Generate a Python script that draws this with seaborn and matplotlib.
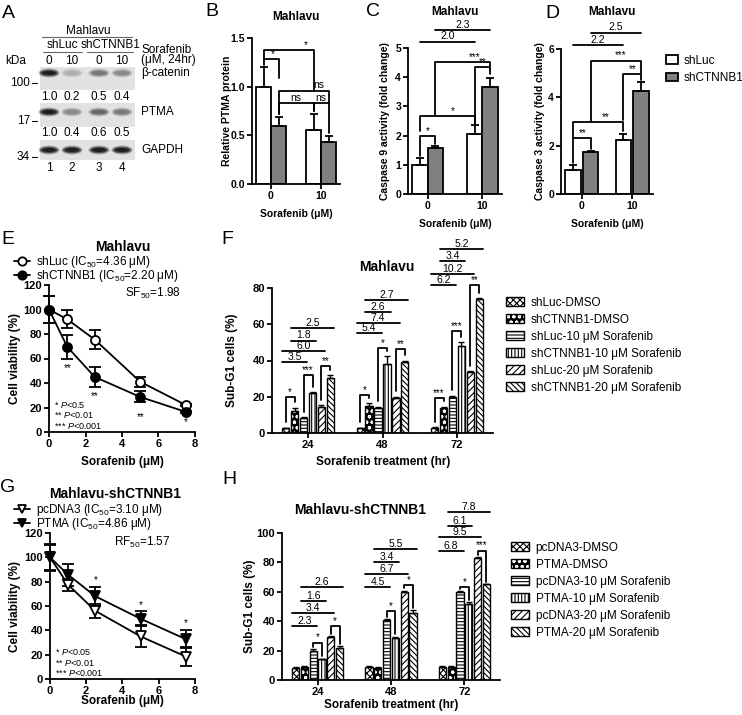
import matplotlib
matplotlib.use("Agg")
import matplotlib.pyplot as plt
from matplotlib.patches import Rectangle, Ellipse, Patch
from matplotlib.lines import Line2D
import pandas as pd
import seaborn as sns

# ---------------- data ----------------
# A: western blot (band quantification)
lane_labels = ["1", "2", "3", "4"]
lane_dose = ["0", "10", "0", "10"]
bcat_quant = [1.0, 0.2, 0.5, 0.4]
ptma_quant = [1.0, 0.4, 0.6, 0.5]
gapdh_quant = [1.0, 1.0, 1.0, 1.0]

# B-D: bar order (0,shLuc) (0,shCTNNB1) (10,shLuc) (10,shCTNNB1)
sh_groups = ["shLuc", "shCTNNB1"]
doses = ["0", "10"]
ptma_mean = [1.00, 0.60, 0.55, 0.43]
ptma_err = [0.20, 0.09, 0.17, 0.06]
casp9_mean = [1.00, 1.57, 2.05, 3.65]
casp9_err = [0.25, 0.08, 0.30, 0.32]
casp3_mean = [1.00, 1.72, 2.25, 4.25]
casp3_err = [0.20, 0.04, 0.25, 0.40]

# brackets: (bar a, bar b, height, leg a bottom, leg b bottom, label, text pos)
b_brackets = [(0, 2, 1.38, 1.28, 0.96, "*", 0.85), (0, 1, 1.28, 1.22, 1.09, "*", 0.6),
              (1, 3, 0.96, 0.72, 0.83, "ns", 0.8), (1, 2, 0.83, 0.72, 0.75, "ns", 0.5),
              (2, 3, 0.83, 0.75, 0.52, "ns", 0.5)]
c_brackets = [(0, 1, 1.99, 1.30, 1.70, "*", 0.5), (0, 2, 2.68, 2.16, 2.40, "*", 0.6),
              (1, 3, 4.52, 2.68, 4.29, "***", 0.72), (2, 3, 4.34, 2.40, 4.10, "**", 0.5)]
d_brackets = [(0, 1, 2.30, 1.30, 1.85, "**", 0.55), (0, 2, 2.96, 2.30, 2.60, "**", 0.65),
              (1, 3, 5.52, 2.96, 5.00, "***", 0.6), (2, 3, 4.97, 3.05, 4.72, "**", 0.5)]
c_folds = [(0, 2, 5.22, "2.0"), (1, 3, 5.62, "2.3")]
d_folds = [(0, 2, 6.16, "2.2"), (1, 3, 6.68, "2.5")]

# E / G: viability curves
conc = [0, 1, 2.5, 5, 7.5]
e_shluc = [100, 92, 75.5, 41, 22]
e_shluc_err = [11, 7.5, 8, 4, 1]
e_shct = [100, 69.5, 45, 28.6, 16.4]
e_shct_err = [11, 10, 8, 4.5, 1]
e_star_y = [52, 29.5, 12.3, 8.2]
e_star_lab = ["**", "**", "**", "*"]
e_p_text = ["0.5", "0.01", "0.001"]

g_pc = [100, 77.5, 56, 35, 18.4]
g_pc_err = [10, 5, 6, 9, 8]
g_ptma = [100, 85.7, 68, 49.5, 32.7]
g_ptma_err = [11, 9, 8, 6, 7.5]
g_star_y = [81.5, 61, 46]
g_p_text = ["0.05", "0.01", "0.001"]

# F / H: sub-G1
times = ["24", "48", "72"]
f_conditions = ["shLuc-DMSO", "shCTNNB1-DMSO", "shLuc-10 μM Sorafenib",
                "shCTNNB1-10 μM Sorafenib", "shLuc-20 μM Sorafenib", "shCTNNB1-20 μM Sorafenib"]
f_values = [[2.5, 12, 8.5, 22, 14.5, 30.5], [2.5, 15, 14, 38, 19.5, 39], [3, 14, 20, 48, 33.5, 74]]
f_errors = [[0.3, 2, 0.3, 0.5, 0.7, 1.5], [0.3, 1.5, 0.5, 4.5, 0.5, 1], [0.3, 0.5, 0.5, 2, 0.5, 0.5]]
f_star_pairs = [(0, 1), (2, 3), (4, 5)]
f_star_h = [[19.7, 32, 36.8], [21, 47, 46.5], [19.3, 56.4, 81.4]]
f_star_lab = [["*", "***", "**"], ["*", "*", "**"], ["***", "***", "**"]]
fold_pairs = [(0, 2), (0, 4), (1, 3), (1, 5)]
f_fold_h = [[39, 45, 51, 58], [55, 60.6, 66.7, 73.5], [81.8, 87.7, 94.7, 101.7]]
f_fold_lab = [["3.5", "6.0", "1.8", "2.5"], ["5.4", "7.4", "2.6", "2.7"], ["6.2", "10.2", "3.4", "5.2"]]

h_conditions = ["pcDNA3-DMSO", "PTMA-DMSO", "pcDNA3-10 μM Sorafenib",
                "PTMA-10 μM Sorafenib", "pcDNA3-20 μM Sorafenib", "PTMA-20 μM Sorafenib"]
h_values = [[8.5, 9, 20, 14, 29, 22], [9, 8.5, 40.5, 28.5, 60, 45.5], [9, 9, 60, 51.5, 83, 65]]
h_errors = [[0.3, 0.5, 1, 0.5, 0.8, 0.8], [0.3, 0.3, 1, 1, 0.8, 2], [0.3, 0.3, 0.5, 1.5, 0.5, 0.5]]
h_star_pairs = [(2, 3), (4, 5)]
h_star_h = [[25.5, 36.4], [47, 64.3], [63, 88]]
h_star_lab = [["*", "*"], ["*", "*"], ["*", "***"]]
h_fold_h = [[36.4, 45.5, 54, 63], [63, 72, 80, 89], [87.7, 97, 105, 114]]
h_fold_lab = [["2.3", "3.4", "1.6", "2.6"], ["4.5", "6.7", "3.4", "5.5"], ["6.8", "9.5", "6.1", "7.8"]]

hatches = ["xxxxx", "ooo", "-----", "|||||", "/////", "\\\\\\\\\\\\"]
DOT = "ooo"  # this pattern is drawn white-on-black

# ---------------- style ----------------
sns.set_theme(style="ticks")
plt.rcParams.update({
    "font.family": ["Liberation Sans", "DejaVu Sans"],
    "mathtext.fontset": "custom",
    "mathtext.rm": "Liberation Sans",
    "mathtext.it": "Liberation Sans:italic",
    "mathtext.bf": "Liberation Sans:bold",
    "axes.linewidth": 1.3,
    "axes.edgecolor": "black",
    "xtick.color": "black", "ytick.color": "black",
    "xtick.major.width": 1.3, "ytick.major.width": 1.3,
    "xtick.major.size": 3.5, "ytick.major.size": 3.5,
    "text.color": "black",
    "hatch.linewidth": 0.8,
})
LW = 1.3
W, H = 742, 715
fig = plt.figure(figsize=(W / 100, H / 100), dpi=100)


def px_axes(left, top, right, bottom):
    return fig.add_axes([left / W, 1 - bottom / H, (right - left) / W, (bottom - top) / H])


def ftext(x, y, s, **kw):
    kw.setdefault("ha", "center")
    kw.setdefault("va", "center")
    fig.text(x / W, 1 - y / H, s, **kw)


def style(ax, fs):
    sns.despine(ax=ax)
    ax.set_xlabel("")
    ax.set_ylabel("")
    ax.tick_params(labelsize=fs, pad=1.5)
    for lbl in ax.get_xticklabels() + ax.get_yticklabels():
        lbl.set_fontweight("bold")


def bracket(ax, xa, xb, h, la, lb, label, t=0.5, fs=7):
    ax.plot([xa, xa, xb, xb], [la, h, h, lb], color="black", lw=LW, clip_on=False)
    ax.annotate(label, (xa + t * (xb - xa), h), xytext=(0, 1.5), textcoords="offset points",
                ha="center", va="baseline", fontsize=fs, annotation_clip=False)


def fold(ax, xa, xb, h, label, fs=7.5):
    ax.plot([xa, xb], [h, h], color="black", lw=LW, clip_on=False)
    ax.annotate(label, ((xa + xb) / 2, h), xytext=(0, 1.5), textcoords="offset points",
                ha="center", va="baseline", fontsize=fs, annotation_clip=False)


# ---------------- panel A ----------------
ax = fig.add_axes([0, 1 - 215 / H, 190 / W, 215 / H])
ax.set_xlim(0, 190)
ax.set_ylim(215, 0)
ax.axis("off")
lane_x = [49 + 23 * i + 4 * (i >= 2) for i in range(4)]
fs_a = 8.5
ax.text(88, 31, "Mahlavu", ha="center", va="center", fontsize=fs_a)
ax.plot([42, 132], [37, 37], color="0.4", lw=0.8)
ax.text(62, 45, "shLuc", ha="center", va="center", fontsize=fs_a)
ax.text(111, 45, "shCTNNB1", ha="center", va="center", fontsize=fs_a)
ax.plot([43, 82], [52, 52], color="0.4", lw=0.8)
ax.plot([87, 133], [52, 52], color="0.4", lw=0.8)
ax.text(16, 61, "kDa", ha="center", va="center", fontsize=fs_a)
ax.text(141, 50, "Sorafenib", ha="left", va="center", fontsize=fs_a)
ax.text(141, 60, "(μM, 24hr)", ha="left", va="center", fontsize=fs_a)
for x, d, n in zip(lane_x, lane_dose, lane_labels):
    ax.text(x, 61, d, ha="center", va="center", fontsize=fs_a)
    ax.text(x, 168, n, ha="center", va="center", fontsize=fs_a)

blots = [("β-catenin", 67, 90, 73, bcat_quant, "100", 83),
         ("PTMA", 103, 127, 112, ptma_quant, "17", 121),
         ("GAPDH", 140, 160, 150, gapdh_quant, "34", 157)]
for name, y0, y1, yb, quant, kda, ky in blots:
    ax.add_patch(Rectangle((40, y0), 95, y1 - y0, facecolor="#e2e2e2", edgecolor="none"))
    for x, q in zip(lane_x, quant):
        shade = 0.82 - 0.72 * q
        for w, hgt, a in [(21, 9, 0.3), (18, 6.5, 0.6), (14, 4, 0.9)]:
            ax.add_patch(Ellipse((x, yb), w, hgt, facecolor=str(shade), alpha=a, edgecolor="none"))
    ax.text(141, yb, name, ha="left", va="center", fontsize=fs_a)
    ax.text(30, ky, kda, ha="right", va="center", fontsize=fs_a)
    ax.plot([32, 37], [ky, ky], color="black", lw=0.8)
for yq, quant in [(97, bcat_quant), (133, ptma_quant)]:
    for x, q in zip(lane_x, quant):
        ax.text(x, yq, f"{q:.1f}", ha="center", va="center", fontsize=fs_a)

# ---------------- panels B-D ----------------
def bar_panel(rect, means, errs, ylim, yticks, fmt, brackets, folds, width, gap):
    ax = px_axes(*rect)
    df = pd.DataFrame({"dose": [d for d in doses for _ in sh_groups],
                       "group": [g for _ in doses for g in sh_groups],
                       "value": means})
    sns.barplot(data=df, x="dose", y="value", hue="group", hue_order=sh_groups,
                palette=["white", "#808080"], edgecolor="black", linewidth=LW,
                width=width, gap=gap, errorbar=None, legend=False, saturation=1, ax=ax)
    c0, c1 = ax.containers[0], ax.containers[1]
    bars = [c0[0], c1[0], c0[1], c1[1]]
    bx = [b.get_x() + b.get_width() / 2 for b in bars]
    ax.errorbar(bx, means, yerr=[[0] * 4, errs], fmt="none", ecolor="black",
                elinewidth=LW, capsize=3, capthick=LW)
    ax.set_ylim(*ylim)
    ax.set_yticks(yticks)
    ax.set_yticklabels([fmt.format(v) for v in yticks])
    for a, b, h, la, lb, lab, t in brackets:
        bracket(ax, bx[a], bx[b], h, la, lb, lab, t=t, fs=7 if lab != "ns" else 7.5)
    for a, b, h, lab in folds:
        fold(ax, bx[a], bx[b], h, lab)
    style(ax, 7.5)
    return ax

bar_panel((252, 38, 340, 184), ptma_mean, ptma_err, (0, 1.5), [0, 0.5, 1.0, 1.5], "{:.1f}",
          b_brackets, [], 0.6, 0)
bar_panel((408, 48, 502, 194), casp9_mean, casp9_err, (0, 5), [0, 1, 2, 3, 4, 5], "{:.0f}",
          c_brackets, c_folds, 0.56, 0)
ax_d = bar_panel((561, 49, 653, 194), casp3_mean, casp3_err, (0, 6), [0, 2, 4, 6], "{:.0f}",
                 d_brackets, d_folds, 0.7, 0.12)
ax_d.legend(handles=[Patch(facecolor="white", edgecolor="black", lw=LW),
                     Patch(facecolor="#808080", edgecolor="black", lw=LW)],
            labels=sh_groups, loc="upper left", bbox_to_anchor=(660 / W, 1 - 49 / H),
            bbox_transform=fig.transFigure, frameon=False, fontsize=8.5, borderpad=0,
            handlelength=1.0, handleheight=0.75, labelspacing=0.45, handletextpad=0.5)

for x, y, s in [(296, 17, "Mahlavu"), (455, 12, "Mahlavu"), (612, 12, "Mahlavu")]:
    ftext(x, y, s, fontsize=8.5, fontweight="bold")
for x, y, s in [(296, 214, "Sorafenib (μM)"), (455, 224, "Sorafenib (μM)"), (607, 224, "Sorafenib (μM)")]:
    ftext(x, y, s, fontsize=7.5, fontweight="bold")
ftext(227, 111, "Relative PTMA protein", fontsize=7.5, fontweight="bold", rotation=90)
ftext(385, 121, "Caspase 9 activity (fold change)", fontsize=7.5, fontweight="bold", rotation=90)
ftext(540, 121, "Caspase 3 activity (fold change)", fontsize=7.5, fontweight="bold", rotation=90)

# ---------------- panels E, G ----------------
def curve_panel(rect, series, star_x, star_y, star_lab, p_text, note, legend_top, marker):
    ax = px_axes(*rect)
    handles, labels = [], []
    for vals, errs, face, label in series:
        sns.lineplot(x=conc, y=vals, color="black", lw=LW, marker=marker, markersize=6.5,
                     markerfacecolor=face, markeredgecolor="black", markeredgewidth=LW,
                     clip_on=False, zorder=3, ax=ax)
        ax.errorbar(conc, vals, yerr=errs, fmt="none", ecolor="black", elinewidth=LW,
                    capsize=4, capthick=LW, clip_on=False, zorder=2)
        handles.append(Line2D([], [], color="black", lw=LW, marker=marker, markersize=6,
                              markerfacecolor=face, markeredgecolor="black", markeredgewidth=LW))
        labels.append(label)
    ax.set_xlim(0, 8)
    ax.set_ylim(0, 120)
    ax.set_xticks([0, 2, 4, 6, 8])
    ax.set_yticks(range(0, 121, 20))
    for x, y, s in zip(star_x, star_y, star_lab):
        ax.text(x, y, s, ha="center", va="center", fontsize=7)
    for i, (stars, p) in enumerate(zip(["*", "**", "***"], p_text)):
        ax.text(0.25, 22 - 8.5 * i, f"{stars} $\\mathit{{P}}$<{p}", ha="left", va="center",
                fontsize=6.5)
    ax.text(note[0], note[1], note[2], ha="center", va="center", fontsize=8.5)
    ax.legend(handles=handles, labels=labels, loc="upper left",
              bbox_to_anchor=(8 / W, 1 - legend_top / H), bbox_transform=fig.transFigure,
              frameon=False, fontsize=8.5, borderpad=0, handlelength=1.4,
              handletextpad=0.5, labelspacing=-0.15)
    style(ax, 8)
    return ax

curve_panel((49, 285, 195, 432),
            [(e_shluc, e_shluc_err, "white", "shLuc (IC$_{50}$=4.36 μM)"),
             (e_shct, e_shct_err, "black", "shCTNNB1 (IC$_{50}$=2.20 μM)")],
            conc[1:], e_star_y, e_star_lab, e_p_text, (5.7, 113, "SF$_{50}$=1.98"), 248, "o")
curve_panel((50, 533, 195, 679),
            [(g_pc, g_pc_err, "white", "pcDNA3 (IC$_{50}$=3.10 μM)"),
             (g_ptma, g_ptma_err, "black", "PTMA (IC$_{50}$=4.86 μM)")],
            conc[2:], g_star_y, ["*", "*", "*"], g_p_text, (5.1, 112.5, "RF$_{50}$=1.57"), 496, "v")
ftext(123, 247, "Mahlavu", fontsize=10, fontweight="bold")
ftext(115, 494, "Mahlavu-shCTNNB1", fontsize=10, fontweight="bold")
ftext(122, 462, "Sorafenib (μM)", fontsize=8.5, fontweight="bold")
ftext(122, 701, "Sorafenib (μM)", fontsize=8.5, fontweight="bold")
ftext(15, 358, "Cell viability (%)", fontsize=8.5, fontweight="bold", rotation=90)
ftext(15, 606, "Cell viability (%)", fontsize=8.5, fontweight="bold", rotation=90)

# ---------------- panels F, H ----------------
def subg1_panel(rect, conditions, values, errors, ylim, star_pairs, star_h, star_lab,
                fold_h, fold_lab, pad, legend_top, legend_left):
    ax = px_axes(*rect)
    df = pd.DataFrame({"time": [t for t in times for _ in conditions],
                       "cond": [c for _ in times for c in conditions],
                       "value": [v for row in values for v in row]})
    sns.barplot(data=df, x="time", y="value", hue="cond", hue_order=conditions,
                palette=["white"] * 6, edgecolor="black", linewidth=1.0, width=0.72, gap=0.18,
                errorbar=None, legend=False, saturation=1, ax=ax)
    handles = []
    for k, cont in enumerate(ax.containers):
        for p in cont:
            if hatches[k] == DOT:
                p.set_facecolor("black")
                p.set_edgecolor("white")
                p.set_linewidth(0)
                ax.add_patch(Rectangle(p.get_xy(), p.get_width(), p.get_height(), fill=False,
                                       edgecolor="black", lw=1.0, zorder=p.get_zorder() + 0.1))
            p.set_hatch(hatches[k])
        if hatches[k] == DOT:
            handles.append((Patch(facecolor="black", edgecolor="white", hatch=hatches[k], lw=0),
                            Patch(fill=False, edgecolor="black", lw=1.0)))
        else:
            handles.append(Patch(facecolor="white", edgecolor="black", hatch=hatches[k], lw=1.0))
    for g in range(len(times)):
        bars = [ax.containers[k][g] for k in range(6)]
        cx = [b.get_x() + b.get_width() / 2 for b in bars]
        ax.errorbar(cx, values[g], yerr=[[0] * 6, errors[g]], fmt="none", ecolor="black",
                    elinewidth=1.0, capsize=2, capthick=1.0)
        for (a, b), h, lab in zip(star_pairs, star_h[g], star_lab[g]):
            la = values[g][a] + errors[g][a] + pad
            lb = values[g][b] + errors[g][b] + pad
            bracket(ax, cx[a], cx[b], h, min(la, h), min(lb, h), lab)
        for (a, b), h, lab in zip(fold_pairs, fold_h[g], fold_lab[g]):
            fold(ax, bars[a].get_x(), bars[b].get_x() + bars[b].get_width(), h, lab)
    ax.set_ylim(*ylim)
    ax.set_yticks(range(0, ylim[1] + 1, 20))
    ax.legend(handles=handles, labels=conditions, loc="upper left",
              bbox_to_anchor=(legend_left / W, 1 - legend_top / H), bbox_transform=fig.transFigure,
              frameon=False, fontsize=8.5, borderpad=0, handlelength=1.5, handleheight=0.8,
              labelspacing=0.42, handletextpad=0.6)
    style(ax, 8)
    return ax

subg1_panel((272, 288, 493, 433), f_conditions, f_values, f_errors, (0, 80), f_star_pairs,
            f_star_h, f_star_lab, f_fold_h, f_fold_lab, 3, 291, 500)
subg1_panel((282, 533, 500, 680), h_conditions, h_values, h_errors, (0, 100), h_star_pairs,
            h_star_h, h_star_lab, h_fold_h, h_fold_lab, 1.5, 536, 505)
ftext(387, 267, "Mahlavu", fontsize=10, fontweight="bold")
ftext(360, 510, "Mahlavu-shCTNNB1", fontsize=10, fontweight="bold")
ftext(383, 462, "Sorafenib treatment (hr)", fontsize=8.5, fontweight="bold")
ftext(391, 705, "Sorafenib treatment (hr)", fontsize=8.5, fontweight="bold")
ftext(232, 360, "Sub-G1 cells (%)", fontsize=8.5, fontweight="bold", rotation=90)
ftext(250, 606, "Sub-G1 cells (%)", fontsize=8.5, fontweight="bold", rotation=90)

# ---------------- panel letters ----------------
for x, y, s in [(8, 13, "A"), (212, 12, "B"), (373, 12, "C"), (552, 13, "D"),
                (8, 240, "E"), (227, 240, "F"), (8, 487, "G"), (229, 480, "H")]:
    ftext(x, y, s, fontsize=14)

fig.savefig("out.png", dpi=100)
